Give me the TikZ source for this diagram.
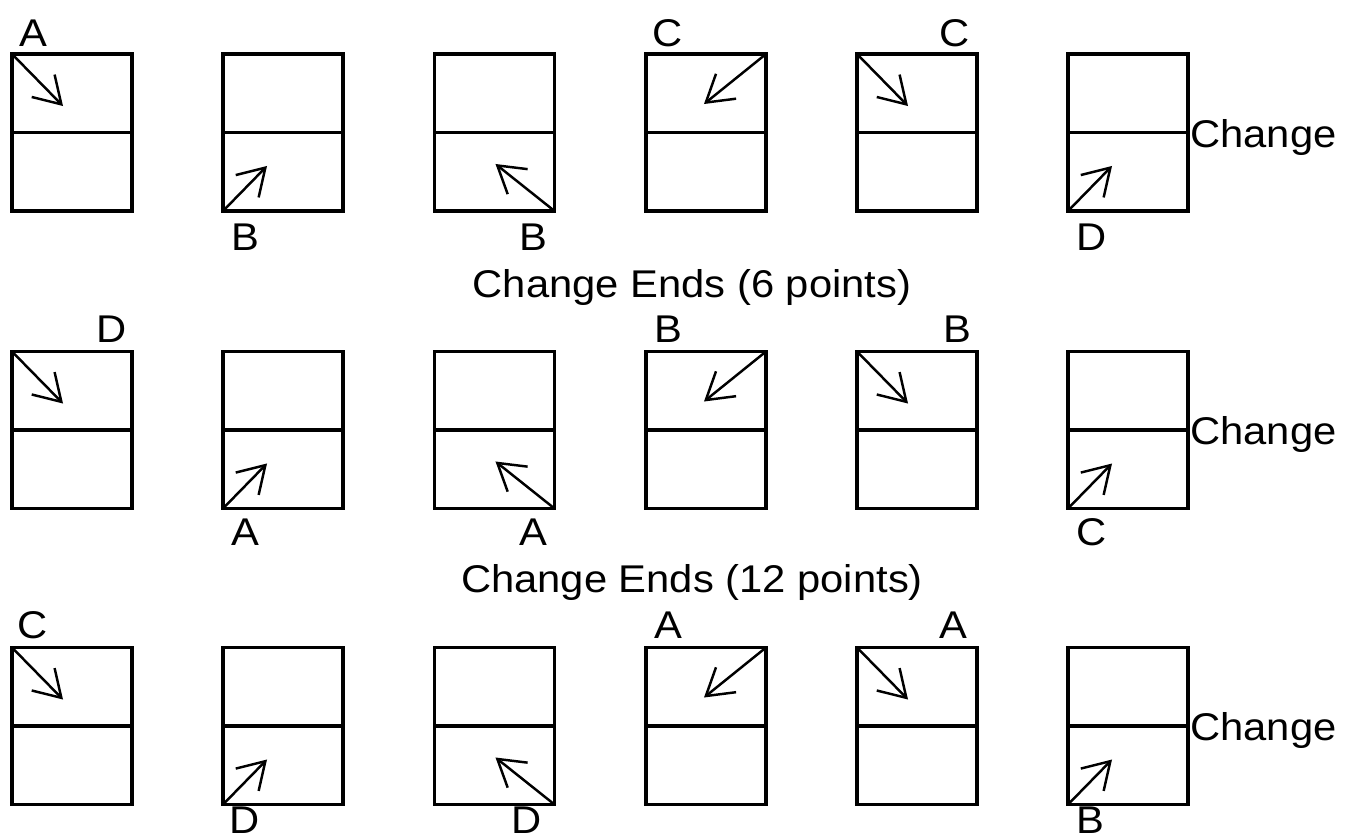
\documentclass[tikz,border=0pt]{standalone}
\usepackage{fontspec}
\setmainfont{Liberation Sans}[FakeStretch=1.08]
\usepackage{tikz}
\usetikzlibrary{arrows.meta}

\tikzset{
  pane/.style={draw, line width=1.8pt, minimum width=2.4cm, minimum height=3.14cm,
    inner sep=0pt, outer sep=0pt,
    path picture={\draw[line width=1.8pt] (path picture bounding box.west) -- (path picture bounding box.east);}},
  turn/.style={line width=1.4pt, -{Straight Barb[length=5.2mm, width=6.4mm]}},
  lbl/.style={inner sep=0pt, text depth=0pt, font=\fontsize{22}{26}\selectfont},
}

\begin{document}
\begin{tikzpicture}[x=0.02cm, y=-0.02cm]
    \useasboundingbox (0,0) rectangle (1348,839);

    % ========== Row 1 ==========
    \node[pane] (a1) at (72,132.5) {};
    \node[pane] (a2) at (283,132.5) {};
    \node[pane] (a3) at (494.5,132.5) {};
    \node[pane] (a4) at (706,132.5) {};
    \node[pane] (a5) at (917,132.5) {};
    \node[pane] (a6) at (1128,132.5) {};

    % Arrow heads (free ends)
    \coordinate (a1h) at ([shift={(51,52)}]a1.north west);
    \coordinate (a2h) at ([shift={(44,-45)}]a2.south west);
    \coordinate (a3h) at ([shift={(-59,-47)}]a3.south east);
    \coordinate (a4h) at ([shift={(-62,50)}]a4.north east);
    \coordinate (a5h) at ([shift={(51,52)}]a5.north west);
    \coordinate (a6h) at ([shift={(44,-45)}]a6.south west);

    \draw[turn] (a1.north west) -- (a1h);
    \draw[turn] (a2.south west) -- (a2h);
    \draw[turn] (a3.south east) -- (a3h);
    \draw[turn] (a4.north east) -- (a4h);
    \draw[turn] (a5.north west) -- (a5h);
    \draw[turn] (a6.south west) -- (a6h);

    % Ends
    \node[lbl] (a1l) at (33,33) {A};
    \node[lbl] (a2l) at (245,237) {B};
    \node[lbl] (a3l) at (533,237) {B};
    \node[lbl] (a4l) at (668,33) {C};
    \node[lbl] (a5l) at (955,33) {C};
    \node[lbl] (a6l) at (1092,237) {D};
    \node[lbl, anchor=west] (a6c) at (1190,133) {Change};

    \node[lbl] (cap1) at (692,283) {Change Ends (6 points)};

    % ========== Row 2 ==========
    \node[pane] (b1) at (72,430) {};
    \node[pane] (b2) at (283,430) {};
    \node[pane] (b3) at (494.5,430) {};
    \node[pane] (b4) at (706,430) {};
    \node[pane] (b5) at (917,430) {};
    \node[pane] (b6) at (1128,430) {};

    % Arrow heads (free ends)
    \coordinate (b1h) at ([shift={(51,52)}]b1.north west);
    \coordinate (b2h) at ([shift={(44,-45)}]b2.south west);
    \coordinate (b3h) at ([shift={(-59,-47)}]b3.south east);
    \coordinate (b4h) at ([shift={(-62,50)}]b4.north east);
    \coordinate (b5h) at ([shift={(51,52)}]b5.north west);
    \coordinate (b6h) at ([shift={(44,-45)}]b6.south west);

    \draw[turn] (b1.north west) -- (b1h);
    \draw[turn] (b2.south west) -- (b2h);
    \draw[turn] (b3.south east) -- (b3h);
    \draw[turn] (b4.north east) -- (b4h);
    \draw[turn] (b5.north west) -- (b5h);
    \draw[turn] (b6.south west) -- (b6h);

    % Ends
    \node[lbl] (b1l) at (112,329) {D};
    \node[lbl] (b2l) at (245,532) {A};
    \node[lbl] (b3l) at (533,532) {A};
    \node[lbl] (b4l) at (668,329) {B};
    \node[lbl] (b5l) at (957,329) {B};
    \node[lbl] (b6l) at (1092,532) {C};
    \node[lbl, anchor=west] (b6c) at (1190,430) {Change};

    \node[lbl] (cap2) at (692,578) {Change Ends (12 points)};

    % ========== Row 3 ==========
    \node[pane] (c1) at (72,726) {};
    \node[pane] (c2) at (283,726) {};
    \node[pane] (c3) at (494.5,726) {};
    \node[pane] (c4) at (706,726) {};
    \node[pane] (c5) at (917,726) {};
    \node[pane] (c6) at (1128,726) {};

    % Arrow heads (free ends)
    \coordinate (c1h) at ([shift={(51,52)}]c1.north west);
    \coordinate (c2h) at ([shift={(44,-45)}]c2.south west);
    \coordinate (c3h) at ([shift={(-59,-47)}]c3.south east);
    \coordinate (c4h) at ([shift={(-62,50)}]c4.north east);
    \coordinate (c5h) at ([shift={(51,52)}]c5.north west);
    \coordinate (c6h) at ([shift={(44,-45)}]c6.south west);

    \draw[turn] (c1.north west) -- (c1h);
    \draw[turn] (c2.south west) -- (c2h);
    \draw[turn] (c3.south east) -- (c3h);
    \draw[turn] (c4.north east) -- (c4h);
    \draw[turn] (c5.north west) -- (c5h);
    \draw[turn] (c6.south west) -- (c6h);

    % Ends
    \node[lbl] (c1l) at (33,625) {C};
    \node[lbl] (c2l) at (245,820) {D};
    \node[lbl] (c3l) at (527,820) {D};
    \node[lbl] (c4l) at (668,625) {A};
    \node[lbl] (c5l) at (953,625) {A};
    \node[lbl] (c6l) at (1090,820) {B};
    \node[lbl, anchor=west] (c6c) at (1190,726) {Change};
\end{tikzpicture}
\end{document}
